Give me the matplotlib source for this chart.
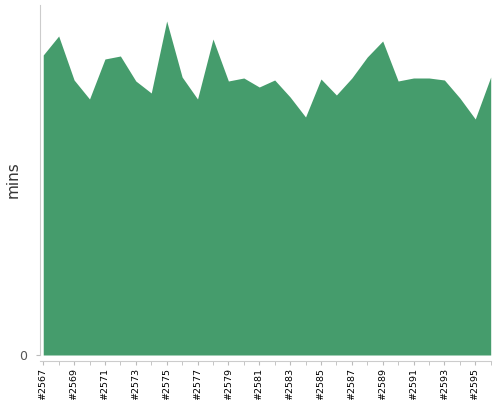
import matplotlib
matplotlib.use("Agg")
import matplotlib.pyplot as plt

# build numbers and duration (mins) of each build
builds = list(range(2567, 2597))
durations = [30.0, 31.9, 27.5, 25.6, 29.6, 29.9, 27.4, 26.2, 33.4, 27.8,
             25.6, 31.6, 27.4, 27.7, 26.8, 27.5, 25.8, 23.8, 27.6, 26.0,
             27.7, 29.8, 31.4, 27.4, 27.7, 27.7, 27.5, 25.7, 23.6, 27.8]
labels = ["#%d" % b for b in builds]

fig = plt.figure(figsize=(5, 4), dpi=100)
ax = fig.add_axes([0.08, 0.1125, 0.902, 0.875])

# spines first: moving a spine resets the ticks
for s in ["top", "right"]:
    ax.spines[s].set_visible(False)
ax.spines["left"].set_color("#cccccc")
ax.spines["bottom"].set_color("#cccccc")
ax.spines["bottom"].set_position(("outward", 4))

x = list(range(len(builds)))
ax.fill_between(x, durations, 0, color="#459c6c", linewidth=0)
ax.set_xlim(-0.21, 29.02)
ax.set_ylim(0, 35.0)

ax.tick_params(axis="x", which="both", length=3, color="#bbbbbb", pad=2)
ax.tick_params(axis="y", length=3, color="#bbbbbb", pad=6)

ax.set_yticks([0])
ax.set_yticklabels(["0"], color="#555555", fontsize=9)
ax.set_ylabel("mins", fontsize=11, color="#333333")
ax.yaxis.set_label_coords(-0.042, 0.5)

ax.set_xticks(x[::2])
ax.set_xticklabels(labels[::2], rotation=90, fontsize=6.8)
ax.set_xticks(x, minor=True)

plt.savefig("out.png", format="png")
